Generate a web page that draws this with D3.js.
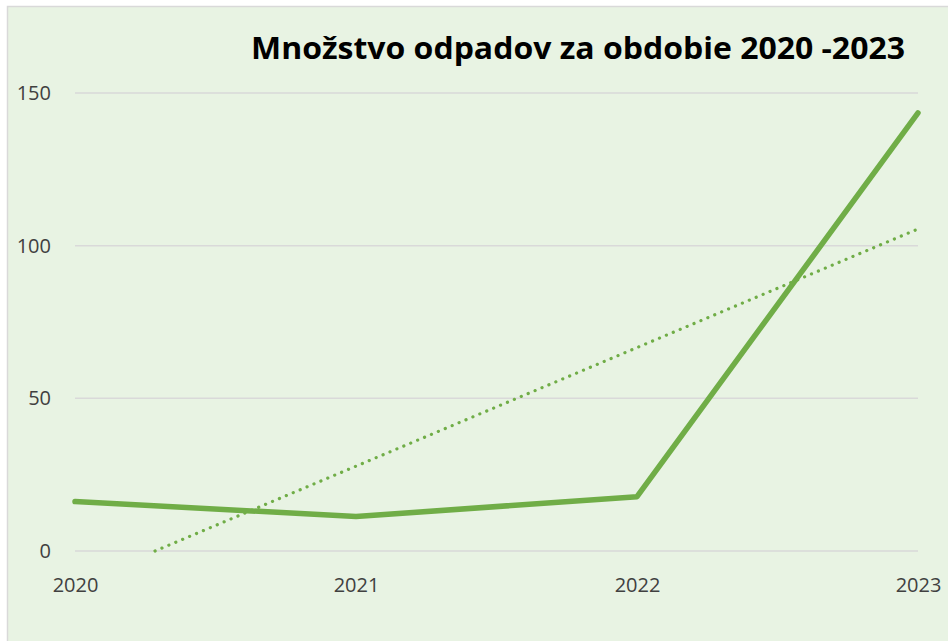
<!DOCTYPE html>
<html>
<head>
<meta charset="utf-8">
<script src="https://cdn.jsdelivr.net/npm/d3@7"></script>
<style>
  body { margin: 0; background: #ffffff; }
  svg { display: block; }
</style>
</head>
<body>
<div class="chart"></div>
<script>
// chart size matches the window
const svgWidth = 948;
const svgHeight = 641;
const margin = { top: 93, right: 30, bottom: 90, left: 75 };
const width = svgWidth - margin.left - margin.right;
const height = 551 - margin.top;

// data
const years = ["2020", "2021", "2022", "2023"];
const odpad = [16.2, 11.3, 17.8, 143.5];
const yTicks = [0, 50, 100, 150];
const titleText = "Množstvo odpadov za obdobie 2020 -2023";

const svg = d3.select(".chart")
    .append("svg")
    .attr("width", svgWidth)
    .attr("height", svgHeight);

// chart area background with a thin border
svg.append("rect")
    .attr("x", 7.5)
    .attr("y", 6.5)
    .attr("width", svgWidth)
    .attr("height", svgHeight)
    .attr("fill", "#e8f3e3")
    .attr("stroke", "#d9d9d9")
    .attr("stroke-width", 1.5);

const g = svg.append("g")
    .attr("transform", `translate(${margin.left},${margin.top})`);

const x = d3.scalePoint()
    .domain(years)
    .range([0, width]);

const y = d3.scaleLinear()
    .domain([0, 150])
    .range([height, 0]);

// gridlines
g.selectAll(".grid")
    .data(yTicks)
    .enter()
    .append("line")
    .attr("class", "grid")
    .attr("x1", 0)
    .attr("x2", width)
    .attr("y1", d => y(d))
    .attr("y2", d => y(d))
    .attr("stroke", "#d9d9d9")
    .attr("stroke-width", 1.5);

// y axis labels
const yAxis = g.append("g")
    .call(d3.axisLeft(y).tickValues(yTicks).tickSize(0).tickPadding(24));
yAxis.select(".domain").remove();
yAxis.selectAll("text")
    .attr("font-family", "'Open Sans', sans-serif")
    .attr("font-size", 20)
    .attr("fill", "#404040");

// x axis labels
const xAxis = g.append("g")
    .attr("transform", `translate(0,${height})`)
    .call(d3.axisBottom(x).tickSize(0).tickPadding(27));
xAxis.select(".domain").remove();
xAxis.selectAll("text")
    .attr("font-family", "'Open Sans', sans-serif")
    .attr("font-size", 20)
    .attr("fill", "#404040");

// linear trend (least squares over the series), clipped at the axis minimum
const idx = years.map((d, i) => i);
const mx = d3.mean(idx);
const my = d3.mean(odpad);
const slope = d3.sum(idx, i => (i - mx) * (odpad[i] - my)) / d3.sum(idx, i => (i - mx) * (i - mx));
const intercept = my - slope * mx;
const xStart = Math.max(0, -intercept / slope);
const xLin = d3.scaleLinear().domain([0, years.length - 1]).range([0, width]);

g.append("line")
    .attr("x1", xLin(xStart))
    .attr("y1", y(intercept + slope * xStart))
    .attr("x2", xLin(years.length - 1))
    .attr("y2", y(intercept + slope * (years.length - 1)))
    .attr("stroke", "#70ad47")
    .attr("stroke-width", 3.2)
    .attr("stroke-linecap", "round")
    .attr("stroke-dasharray", "0.1 7.4");

// main line
const line = d3.line()
    .x((d, i) => x(years[i]))
    .y(d => y(d));

g.append("path")
    .datum(odpad)
    .attr("d", line)
    .attr("fill", "none")
    .attr("stroke", "#70ad47")
    .attr("stroke-width", 5.5)
    .attr("stroke-linejoin", "round")
    .attr("stroke-linecap", "round");

// title
svg.append("text")
    .text(titleText)
    .attr("x", 251)
    .attr("y", 59)
    .attr("textLength", 654)
    .attr("lengthAdjust", "spacingAndGlyphs")
    .attr("font-family", "'Open Sans', sans-serif")
    .attr("font-weight", "bold")
    .attr("font-size", 31)
    .attr("fill", "#000000");
</script>
</body>
</html>
